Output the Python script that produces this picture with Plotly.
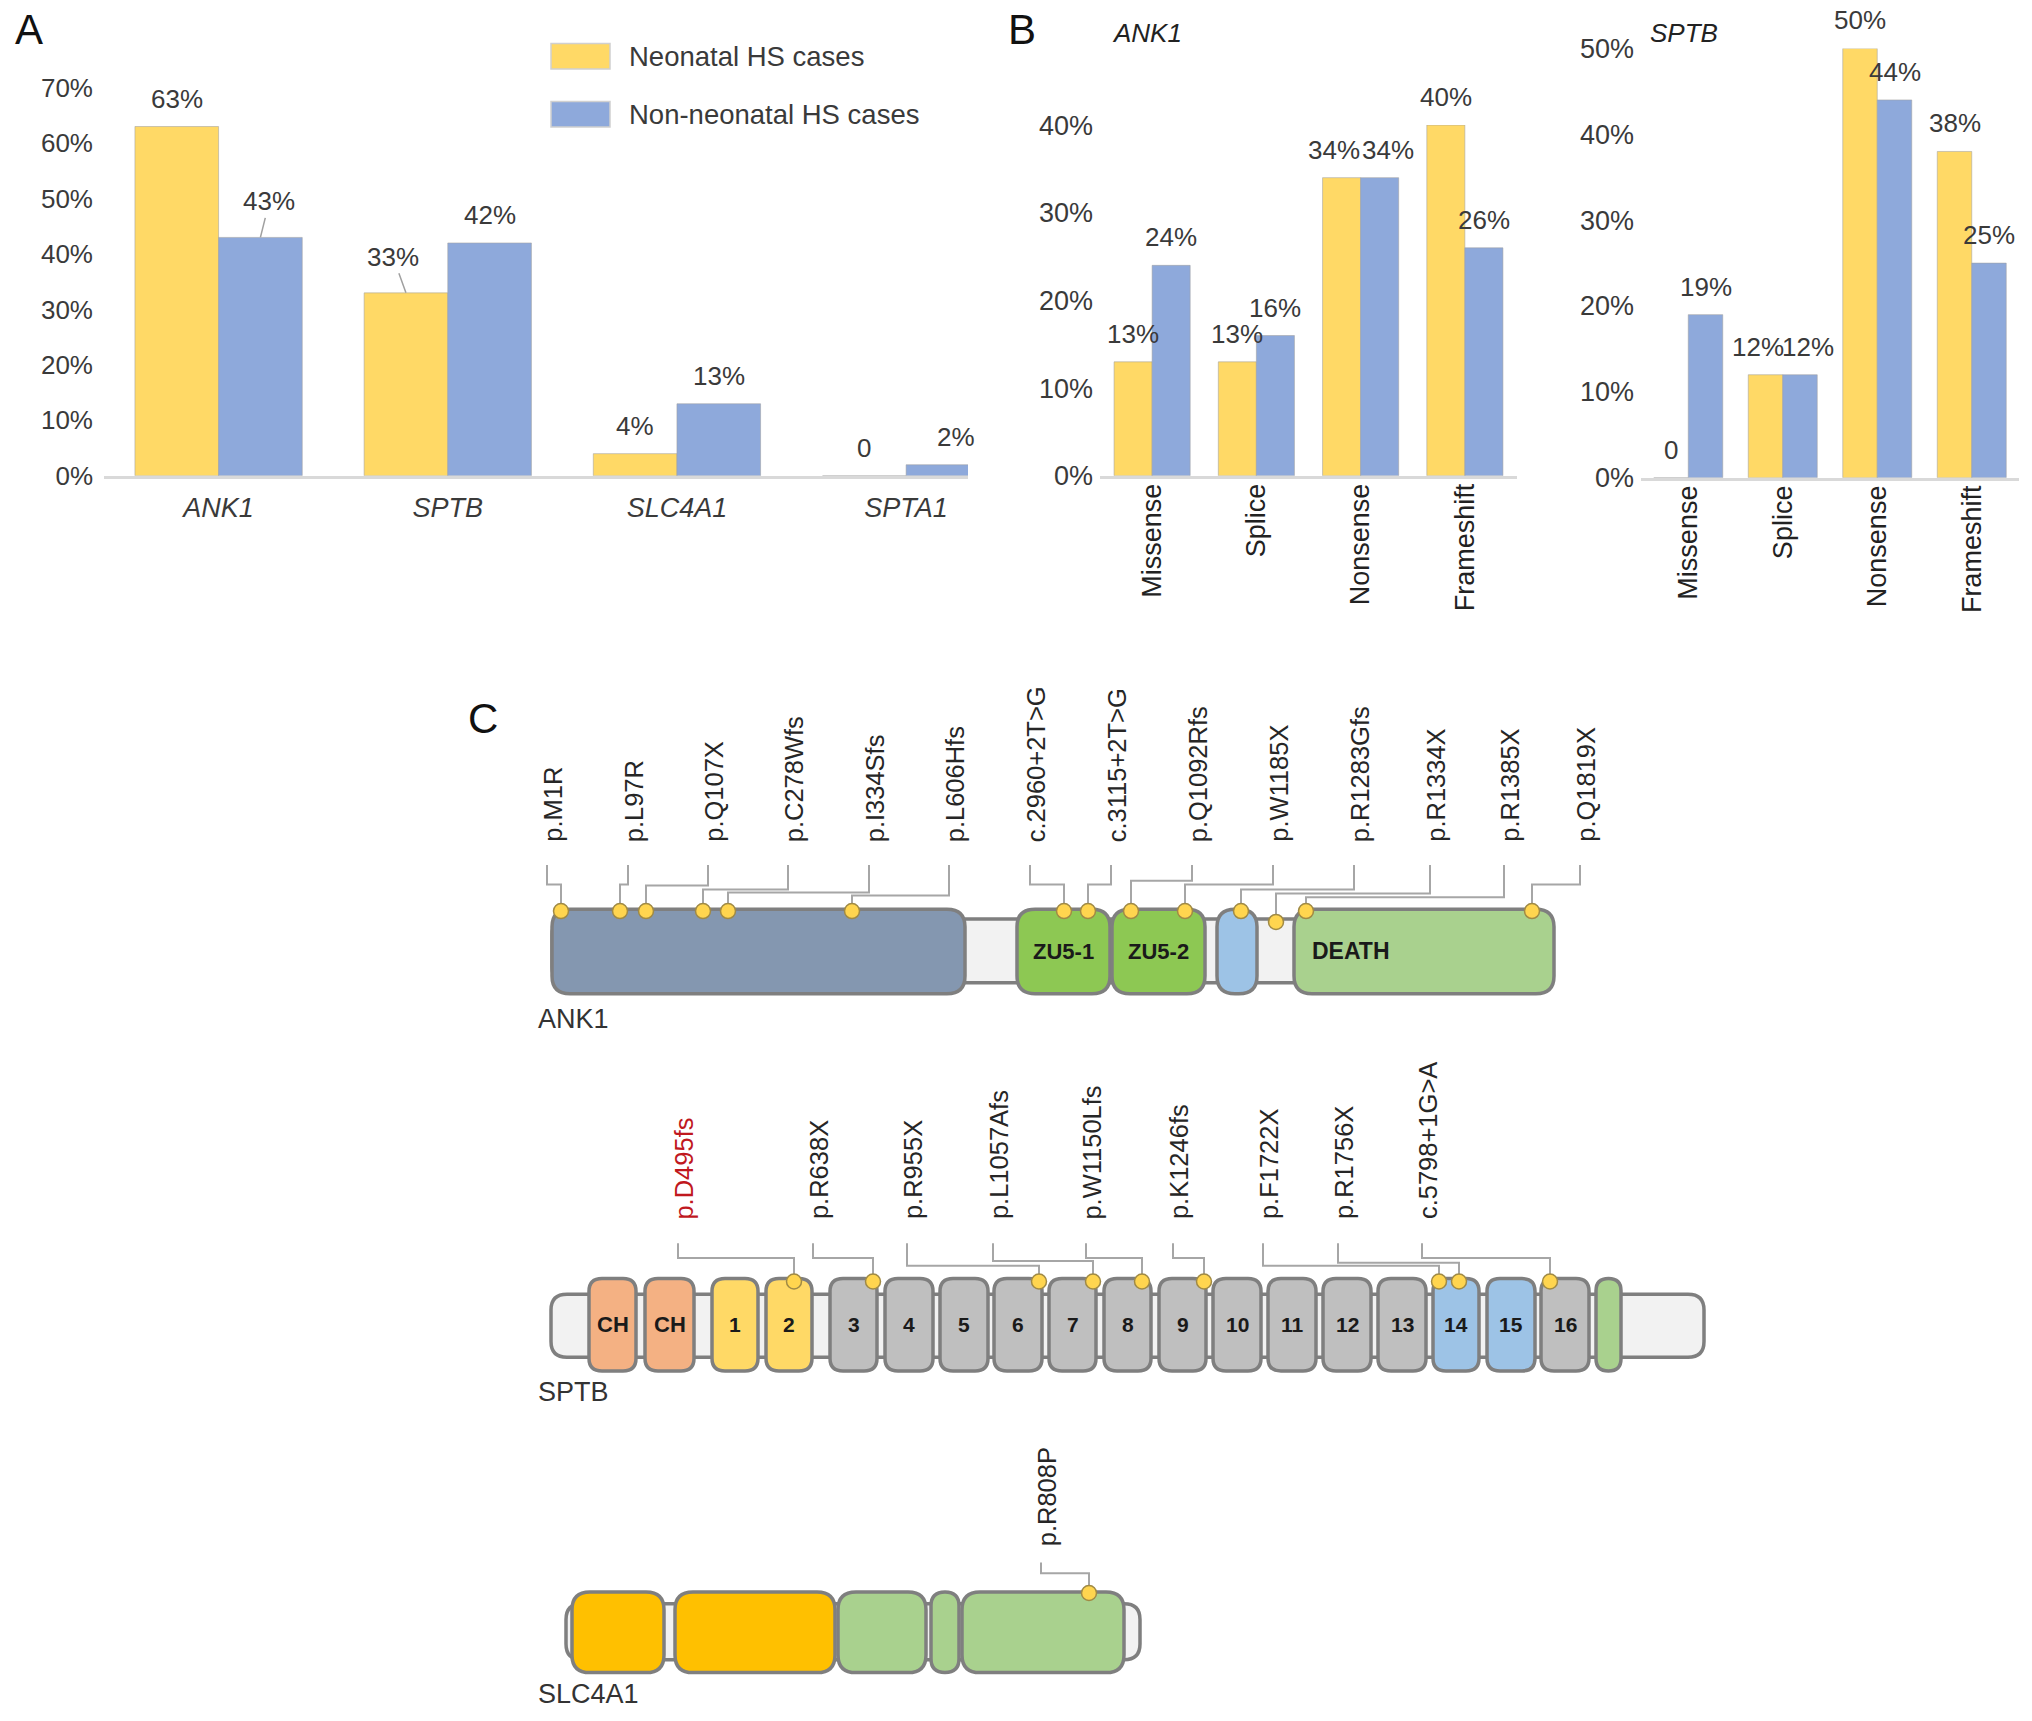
import plotly.graph_objects as go

W, H = 2032, 1721

# ---------------- DATA ----------------
series_names = ["Neonatal HS cases", "Non-neonatal HS cases"]

# Panel A
genes_A = ["ANK1", "SPTB", "SLC4A1", "SPTA1"]
neo_A = [63, 33, 4, 0]
non_A = [43, 42, 13, 2]
ticks_A = [0, 10, 20, 30, 40, 50, 60, 70]

# Panel B
types_B = ["Missense", "Splice", "Nonsense", "Frameshift"]
ank1_neo_B = [13, 13, 34, 40]
ank1_non_B = [24, 16, 34, 26]
sptb_neo_B = [0, 12, 50, 38]
sptb_non_B = [19, 12, 44, 25]
ticks_B_ank1 = [0, 10, 20, 30, 40]
ticks_B_sptb = [0, 10, 20, 30, 40, 50]

# Panel C (schematic positions along the drawn protein, in figure units)
ank1_mut_labels = ["p.M1R", "p.L97R", "p.Q107X", "p.C278Wfs", "p.I334Sfs", "p.L606Hfs",
                   "c.2960+2T>G", "c.3115+2T>G", "p.Q1092Rfs", "p.W1185X", "p.R1283Gfs",
                   "p.R1334X", "p.R1385X", "p.Q1819X"]
ank1_label_pos = [547, 628, 708, 788, 869, 949, 1030, 1111, 1192, 1273, 1354, 1430, 1504, 1580]
ank1_mut_pos = [561, 620, 646, 703, 728, 852, 1064, 1088, 1131, 1185, 1241, 1276, 1306, 1532]
ank1_elbow = [885, 885, 886, 890, 893, 896, 885, 885, 881, 885, 890, 894, 898, 885]
ank1_dot_y = [912, 912, 912, 912, 912, 912, 912, 912, 912, 912, 912, 923, 912, 912]
ank1_dom_text = ["", "ZU5-1", "ZU5-2", "", "DEATH"]
ank1_dom_kind = ["ANK", "ZU5", "ZU5", "UPA", "DEATH"]
ank1_dom_start = [552, 1017, 1112, 1217, 1294]
ank1_dom_end = [965, 1110, 1205, 1257, 1554]
ank1_extent = [552, 1552]

sptb_mut_labels = ["p.D495fs", "p.R638X", "p.R955X", "p.L1057Afs", "p.W1150Lfs",
                   "p.K1246fs", "p.F1722X", "p.R1756X", "c.5798+1G>A"]
sptb_label_pos = [678, 813, 907, 993, 1086, 1173, 1263, 1338, 1422]
sptb_mut_pos = [794, 873, 1039, 1093, 1142, 1204, 1439, 1459, 1550]
sptb_elbow = [1265, 1265, 1273, 1268, 1265, 1265, 1273, 1270, 1265]
sptb_dot_y = [1289] * 9
sptb_highlight = [True, False, False, False, False, False, False, False, False]
sptb_dom_text = ["CH", "CH", "1", "2", "3", "4", "5", "6", "7", "8", "9", "10",
                 "11", "12", "13", "14", "15", "16", ""]
sptb_dom_kind = ["CH", "CH", "R_Y", "R_Y", "R", "R", "R", "R", "R", "R", "R", "R",
                 "R", "R", "R", "R_B", "R_B", "R", "PH"]
sptb_dom_start = [589, 645, 712, 766, 830, 885, 940, 994, 1049, 1104, 1159, 1213,
                  1268, 1323, 1378, 1433, 1487, 1541, 1596]
sptb_dom_end = [636, 694, 758, 812, 877, 933, 988, 1042, 1096, 1151, 1206, 1261,
                1316, 1371, 1426, 1479, 1535, 1589, 1621]
sptb_extent = [551, 1704]

slc_mut_labels = ["p.R808P"]
slc_label_pos = [1041]
slc_mut_pos = [1089]
slc_elbow = [1586]
slc_dot_y = [1606]
slc_dom_text = ["", "", "", "", ""]
slc_dom_kind = ["CYTO", "CYTO", "TM", "TM", "TM"]
slc_dom_start = [572, 675, 838, 931, 962]
slc_dom_end = [664, 835, 926, 959, 1124]
slc_extent = [566, 1140]

# ---------------- STYLE ----------------
FONT = "Liberation Sans, Arial, Helvetica, sans-serif"
TXT = "#3a3a3a"
C_NEO = "#FFD966"
C_NON = "#8EA9DB"
BAR_W = 0.365
DOM_COLORS = {"ANK": "#8497B0", "ZU5": "#8DC853", "UPA": "#9DC3E6", "DEATH": "#A9D18E",
              "CH": "#F4B183", "R_Y": "#FFD966", "R": "#BFBFBF", "R_B": "#9DC3E6",
              "PH": "#A9D18E", "CYTO": "#FFC000", "TM": "#A9D18E"}
OUTLINE = "#7F7F7F"
BG_FILL = "#F2F2F2"

ROWS = {
    "ANK1": dict(top=910, bottom=996, bg_top=920, bg_bottom=985, r=18, label_y=844,
                 leader_top=865, name_y=1022),
    "SPTB": dict(top=1286, bottom=1380, bg_top=1302, bg_bottom=1366, r=13, label_y=1228,
                 leader_top=1250, name_y=1401),
    "SLC4A1": dict(top=1605, bottom=1687, bg_top=1617, bg_bottom=1674, r=18, label_y=1561,
                   leader_top=1575, name_y=1709),
}


def px(x):
    return x / W


def py(y):
    return 1 - y / H


def pct(v):
    return "0" if v == 0 else f"{v}%"


fig = go.Figure()
annotations = []
shapes = []

# ---------------- Panels A and B bars ----------------
panels = [
    dict(xa="x", ya="y", cats=genes_A, neo=neo_A, non=non_A),
    dict(xa="x2", ya="y2", cats=types_B, neo=ank1_neo_B, non=ank1_non_B),
    dict(xa="x3", ya="y3", cats=types_B, neo=sptb_neo_B, non=sptb_non_B),
]
leader_offsets = {("x", 1, 0): (9, -36), ("x", 0, 1): (-13, -36)}

for p in panels:
    idx = list(range(len(p["cats"])))
    for s, (vals, col) in enumerate([(p["neo"], C_NEO), (p["non"], C_NON)]):
        fig.add_trace(go.Bar(
            x=idx, y=vals, width=BAR_W, offset=-BAR_W if s == 0 else 0,
            marker=dict(color=col, line=dict(color="rgba(160,160,160,0.55)", width=1)),
            name=series_names[s], showlegend=False, xaxis=p["xa"], yaxis=p["ya"],
            hoverinfo="skip"))
        for i, v in enumerate(vals):
            xc = i - BAR_W / 2 if s == 0 else i + BAR_W / 2
            other = p["non"][i] if s == 0 else p["neo"][i]
            dx = 0
            if abs(other - v) <= 2 and v > 0:
                dx = -8 if s == 0 else 8
            key = (p["xa"], s, i)
            if key in leader_offsets:
                ax, ay = leader_offsets[key]
                annotations.append(dict(
                    x=xc, y=v, xref=p["xa"], yref=p["ya"], text=pct(v), showarrow=True,
                    arrowhead=0, arrowwidth=1.5, arrowcolor="#A0A0A0", ax=ax, ay=ay,
                    standoff=0, font=dict(size=26, color=TXT, family=FONT)))
            else:
                annotations.append(dict(
                    x=xc, y=v, xref=p["xa"], yref=p["ya"], text=pct(v), showarrow=False,
                    xanchor="center", yanchor="middle", yshift=28, xshift=dx,
                    font=dict(size=26, color=TXT, family=FONT)))

axis_common = dict(showgrid=False, zeroline=False, fixedrange=True)

fig.update_layout(
    xaxis=dict(domain=[px(104), px(968)], range=[-0.5, 3.27], anchor="y",
               tickvals=list(range(4)), ticktext=[f"<i>{g}</i>" for g in genes_A],
               showline=True, linecolor="#D9D9D9", linewidth=3, ticks="",
               ticklabelstandoff=6, tickfont=dict(size=27, color=TXT, family=FONT),
               **axis_common),
    yaxis=dict(domain=[py(469), py(74)], range=[0, 70], anchor="x",
               tickvals=ticks_A, ticktext=[f"{t}%" for t in ticks_A], showline=False,
               ticks="", ticklabelstandoff=10,
               tickfont=dict(size=26, color=TXT, family=FONT), **axis_common),
    xaxis2=dict(domain=[px(1100), px(1517)], range=[-0.5, 3.5], anchor="y2",
                tickvals=list(range(4)), ticktext=types_B, tickangle=-90,
                showline=True, linecolor="#D9D9D9", linewidth=3, ticks="",
                ticklabelstandoff=-6, tickfont=dict(size=27, color="#222222", family=FONT),
                **axis_common),
    yaxis2=dict(domain=[py(469), py(112)], range=[0, 40], anchor="x2",
                tickvals=ticks_B_ank1, ticktext=[f"{t}%" for t in ticks_B_ank1],
                showline=False, ticks="", ticklabelstandoff=6,
                tickfont=dict(size=27, color=TXT, family=FONT), **axis_common),
    xaxis3=dict(domain=[px(1641), px(2019)], range=[-0.5, 3.5], anchor="y3",
                tickvals=list(range(4)), ticktext=types_B, tickangle=-90,
                showline=True, linecolor="#D9D9D9", linewidth=3, ticks="",
                ticklabelstandoff=-6, tickfont=dict(size=27, color="#222222", family=FONT),
                **axis_common),
    yaxis3=dict(domain=[py(471), py(34)], range=[0, 50], anchor="x3",
                tickvals=ticks_B_sptb, ticktext=[f"{t}%" for t in ticks_B_sptb],
                showline=False, ticks="", ticklabelstandoff=6,
                tickfont=dict(size=27, color=TXT, family=FONT), **axis_common),
    xaxis4=dict(domain=[0, 1], range=[0, W], anchor="y4", visible=False, **axis_common),
    yaxis4=dict(domain=[0, 1], range=[H, 0], anchor="x4", visible=False, **axis_common),
)

# Legend (panel A)
for s, (col, yc) in enumerate([(C_NEO, 42), (C_NON, 101)]):
    shapes.append(dict(type="rect", xref="paper", yref="paper", x0=px(551), x1=px(610),
                       y0=py(yc + 13), y1=py(yc - 13), fillcolor=col,
                       line=dict(color="#D0D0D0", width=1.5)))
    annotations.append(dict(x=px(627), y=py(yc), xref="paper", yref="paper",
                            text=series_names[s], showarrow=False, xanchor="left",
                            yanchor="middle", font=dict(size=27.5, color=TXT, family=FONT)))

# Panel letters and B headers
for letter, (lx, ly) in {"A": (29, 15), "B": (1022, 15), "C": (483, 716)}.items():
    annotations.append(dict(x=px(lx), y=py(ly), xref="paper", yref="paper", text=letter,
                            showarrow=False, xanchor="center", yanchor="middle",
                            font=dict(size=42, color="#111111", family=FONT)))
for name, (hx, hy) in {"ANK1": (1147, 18), "SPTB": (1684, 18)}.items():
    annotations.append(dict(x=px(hx), y=py(hy), xref="paper", yref="paper",
                            text=f"<i>{name}</i>", showarrow=False, xanchor="center",
                            yanchor="middle", font=dict(size=26, color="#222222", family=FONT)))


# ---------------- Panel C protein schematics ----------------
def rrect(x0, y0, x1, y1, r):
    r = min(r, (x1 - x0) / 2, (y1 - y0) / 2)
    return (f"M{x0 + r},{y0} L{x1 - r},{y0} Q{x1},{y0} {x1},{y0 + r} "
            f"L{x1},{y1 - r} Q{x1},{y1} {x1 - r},{y1} L{x0 + r},{y1} "
            f"Q{x0},{y1} {x0},{y1 - r} L{x0},{y0 + r} Q{x0},{y0} {x0 + r},{y0} Z")


proteins = [
    ("ANK1", ank1_extent, ank1_dom_start, ank1_dom_end, ank1_dom_kind, ank1_dom_text,
     ank1_mut_labels, ank1_label_pos, ank1_mut_pos, ank1_elbow, ank1_dot_y,
     [False] * len(ank1_mut_labels)),
    ("SPTB", sptb_extent, sptb_dom_start, sptb_dom_end, sptb_dom_kind, sptb_dom_text,
     sptb_mut_labels, sptb_label_pos, sptb_mut_pos, sptb_elbow, sptb_dot_y, sptb_highlight),
    ("SLC4A1", slc_extent, slc_dom_start, slc_dom_end, slc_dom_kind, slc_dom_text,
     slc_mut_labels, slc_label_pos, slc_mut_pos, slc_elbow, slc_dot_y, [False]),
]

lead_x, lead_y, dot_x, dot_y = [], [], [], []
for (pname, ext, ds, de, dk, dt, ml, lp, mp, el, dy, hl) in proteins:
    row = ROWS[pname]
    shapes.append(dict(type="path", xref="x4", yref="y4", layer="below",
                       path=rrect(ext[0], row["bg_top"], ext[1], row["bg_bottom"], 16),
                       fillcolor=BG_FILL, line=dict(color=OUTLINE, width=3.5)))
    for x0, x1, kind, txt in zip(ds, de, dk, dt):
        shapes.append(dict(type="path", xref="x4", yref="y4", layer="below",
                           path=rrect(x0, row["top"], x1, row["bottom"], row["r"]),
                           fillcolor=DOM_COLORS[kind], line=dict(color=OUTLINE, width=3.5)))
        if txt:
            yc = (row["top"] + row["bottom"]) / 2
            if kind == "DEATH":
                annotations.append(dict(x=x0 + 16, y=yc, xref="x4", yref="y4",
                                        text=f"<b>{txt}</b>", showarrow=False,
                                        xanchor="left", yanchor="middle",
                                        font=dict(size=23, color="#1a1a1a", family=FONT)))
            else:
                annotations.append(dict(x=(x0 + x1) / 2, y=yc, xref="x4", yref="y4",
                                        text=f"<b>{txt}</b>", showarrow=False,
                                        xanchor="center", yanchor="middle",
                                        font=dict(size=22 if kind in ("ZU5", "CH") else 21,
                                                  color="#1a1a1a", family=FONT)))
    annotations.append(dict(x=536, y=row["name_y"], xref="x4", yref="y4", text=pname,
                            showarrow=False, xanchor="left", yanchor="middle",
                            font=dict(size=27, color="#333333", family=FONT)))
    for lab, lx, mx, ey, my, h in zip(ml, lp, mp, el, dy, hl):
        lead_x += [lx, lx, mx, mx, None]
        lead_y += [row["leader_top"], ey, ey, my, None]
        dot_x.append(mx)
        dot_y.append(my)
        annotations.append(dict(x=lx, y=row["label_y"], xref="x4", yref="y4", text=lab,
                                showarrow=False, textangle=-90, xanchor="center",
                                yanchor="bottom", xshift=6,
                                font=dict(size=25.5, color="#C0181E" if h else "#262626",
                                          family=FONT)))

fig.add_trace(go.Scatter(x=lead_x, y=lead_y, mode="lines", xaxis="x4", yaxis="y4",
                         line=dict(color="#A6A6A6", width=2), showlegend=False,
                         hoverinfo="skip"))
fig.add_trace(go.Scatter(x=dot_x, y=dot_y, mode="markers", xaxis="x4", yaxis="y4",
                         marker=dict(size=15, color="#FFD54F",
                                     line=dict(color="#A08A45", width=1.5)),
                         showlegend=False, hoverinfo="skip"))

fig.update_layout(
    width=W, height=H, margin=dict(l=0, r=0, t=0, b=0),
    paper_bgcolor="white", plot_bgcolor="rgba(0,0,0,0)",
    font=dict(family=FONT, color=TXT),
    barmode="overlay", showlegend=False,
    annotations=annotations, shapes=shapes,
)

fig.write_html("out.html", config={"displayModeBar": False},
               post_script="document.body.style.margin='0';"
                           "document.documentElement.style.margin='0';")
